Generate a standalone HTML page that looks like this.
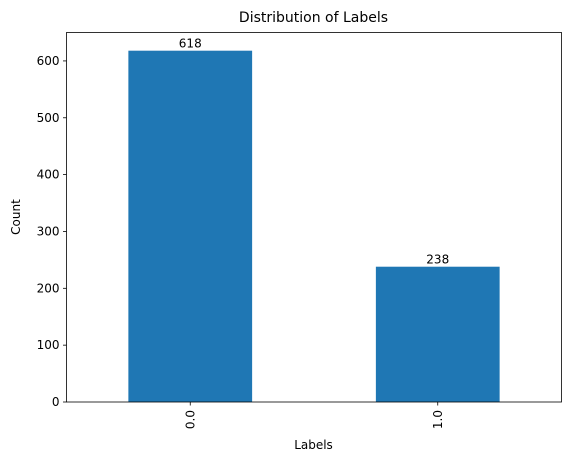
<!DOCTYPE html>
<html><head><meta charset="utf-8"><style>
body{margin:0;background:#fff;font-family:"DejaVu Sans","Liberation Sans",sans-serif;}
svg text{font-family:"DejaVu Sans","Liberation Sans",sans-serif;fill:#000;}
</style></head><body>
<svg id="chart" width="571" height="463" viewBox="0 0 571 463" xmlns="http://www.w3.org/2000/svg">
<rect width="571" height="463" fill="#fff"/>
<text x="313.5" y="22" font-size="14" text-anchor="middle">Distribution of Labels</text>
<g id="bars"></g>
<g id="yticks"></g>
<g id="xticks"></g>
<rect x="66.5" y="32.5" width="495" height="369.5" fill="none" stroke="#000" stroke-width="0.8"/>
<text x="313.5" y="449" font-size="12" text-anchor="middle">Labels</text>
<text x="20" y="217" font-size="12" text-anchor="middle" transform="rotate(-90 20 217)">Count</text>
</svg>
<script>
const categories = ["0.0", "1.0"];
const counts = [618, 238];
const yTicks = [0, 100, 200, 300, 400, 500, 600];
const L = 66.5, R = 561.5, T = 32.5, B = 402;
const yMax = 650;
const ns = "http://www.w3.org/2000/svg";
function y(v){ return B - (v / yMax) * (B - T); }
function x(i){ return L + (i + 0.5) / categories.length * (R - L); }
const bw = 0.5 / categories.length * (R - L);
const bars = document.getElementById('bars');
categories.forEach((c, i) => {
  const r = document.createElementNS(ns, 'rect');
  
  
  r.setAttribute('x', x(i) - bw / 2);
  r.setAttribute('y', y(counts[i]));
  r.setAttribute('width', bw);
  r.setAttribute('height', B - y(counts[i]));
  r.setAttribute('fill', '#1f77b4');
  bars.appendChild(r);
  const t = document.createElementNS(ns, 'text');
  
  
  t.setAttribute('x', x(i));
  t.setAttribute('y', y(counts[i]) - 3);
  t.setAttribute('font-size', '12');
  t.setAttribute('text-anchor', 'middle');
  t.textContent = counts[i];
  bars.appendChild(t);
});
const yg = document.getElementById('yticks');
yTicks.forEach(v => {
  const l = document.createElementNS(ns, 'line');
  
  
  l.setAttribute('x1', L - 3.5); l.setAttribute('x2', L);
  l.setAttribute('y1', y(v)); l.setAttribute('y2', y(v));
  l.setAttribute('stroke', '#000'); l.setAttribute('stroke-width', '0.8');
  yg.appendChild(l);
  const t = document.createElementNS(ns, 'text');
  
  
  t.setAttribute('x', L - 7); t.setAttribute('y', y(v) + 4);
  t.setAttribute('font-size', '12'); t.setAttribute('text-anchor', 'end');
  t.textContent = v;
  yg.appendChild(t);
});
const xg = document.getElementById('xticks');
categories.forEach((c, i) => {
  const l = document.createElementNS(ns, 'line');
  
  
  l.setAttribute('x1', x(i)); l.setAttribute('x2', x(i));
  l.setAttribute('y1', B); l.setAttribute('y2', B + 3.5);
  l.setAttribute('stroke', '#000'); l.setAttribute('stroke-width', '0.8');
  xg.appendChild(l);
  const t = document.createElementNS(ns, 'text');
  
  
  const tx = x(i) + 4, ty = B + 8;
  t.setAttribute('x', tx); t.setAttribute('y', ty);
  t.setAttribute('font-size', '12'); t.setAttribute('text-anchor', 'end');
  t.setAttribute('transform', 'rotate(-90 ' + tx + ' ' + ty + ')');
  t.textContent = c;
  xg.appendChild(t);
});
</script>
</body></html>
